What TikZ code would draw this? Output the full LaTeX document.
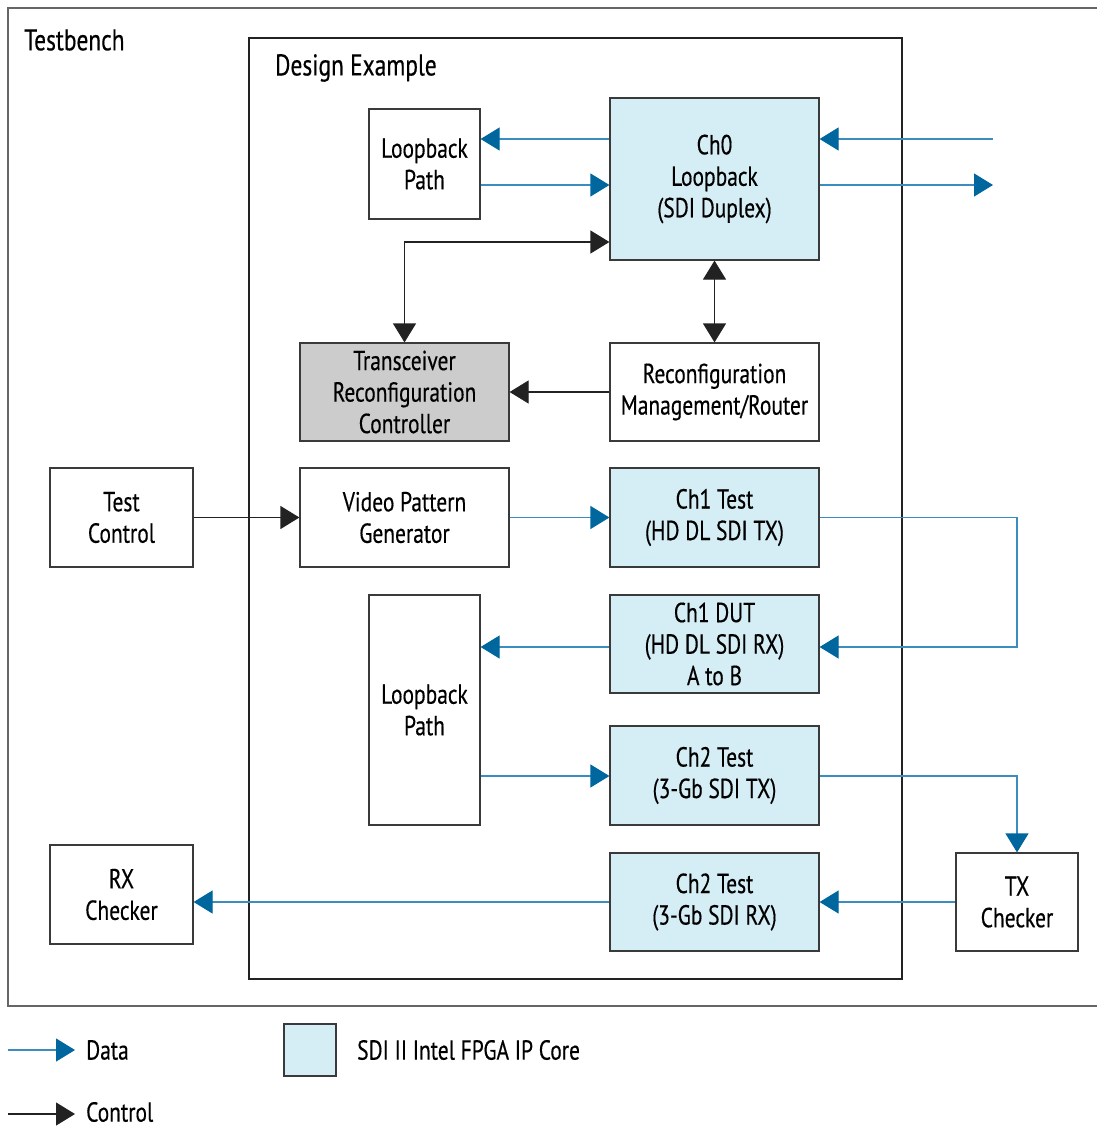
\documentclass[tikz,border=0pt]{standalone}
\usepackage{fontspec}
\setmainfont{PT Sans}[FakeStretch=0.78,FakeBold=0.4]
\usetikzlibrary{arrows.meta,calc}
\definecolor{ipblue}{HTML}{D5EDF5}
\definecolor{dataline}{HTML}{3A8DBE}
\definecolor{datahead}{HTML}{00669E}
\definecolor{ctrl}{HTML}{222222}
\definecolor{edge}{HTML}{3A3A3A}
\definecolor{trcgray}{HTML}{CCCCCC}
\begin{document}
\begin{tikzpicture}[x=1pt,y=-1pt,
  box/.style={draw=edge,line width=1.2pt,inner sep=0pt,align=center,
    font=\fontsize{27.5}{31.5}\selectfont},
  ipbox/.style={box,fill=ipblue},
  data/.style={draw=dataline,line width=1.2pt,
    -{Triangle[length=19pt,width=23pt,fill=datahead,color=datahead]}},
  control/.style={draw=ctrl,line width=1.2pt,
    -{Triangle[length=19pt,width=23pt,fill=ctrl,color=ctrl]}},
  controlboth/.style={control,{Triangle[length=19pt,width=23pt,fill=ctrl,color=ctrl]}-{Triangle[length=19pt,width=23pt,fill=ctrl,color=ctrl]}},
  title/.style={anchor=west,inner sep=0pt,font=\fontsize{30}{34}\selectfont},
  legtext/.style={anchor=west,inner sep=0pt,font=\fontsize{27.5}{31.5}\selectfont}]
\useasboundingbox (0,0) rectangle (1097,1126);
% Testbench frame (open at right)
\draw[draw=gray!80!black,line width=1.4pt] (1097,8) -- (8,8) -- (8,1006) -- (1097,1006);
\node[title] (tb) at (24,40) {Testbench};
% Design example frame
\draw[draw=ctrl,line width=1.2pt] (249,38) rectangle (902,979);
\node[title] (de) at (275,68) {Design Example};
% Blocks
\node[box,minimum width=111,minimum height=110] (lb1) at (424.5,164) {Loopback\\Path};
\node[ipbox,minimum width=209,minimum height=162] (ch0) at (714.5,179) {Ch0\\Loopback\\(SDI Duplex)};
\node[box,fill=trcgray,minimum width=209,minimum height=98] (trc) at (404.5,392) {Transceiver\\Reconfiguration\\Controller};
\node[box,minimum width=209,minimum height=98] (rmr) at (714.5,392) {Reconfiguration\\Management/Router};
\node[box,minimum width=143,minimum height=99] (tc) at (121.5,517.5) {Test\\Control};
\node[box,minimum width=209,minimum height=99] (vpg) at (404.5,517.5) {Video Pattern\\Generator};
\node[ipbox,minimum width=209,minimum height=99] (ch1t) at (714.5,517.5) {Ch1 Test\\(HD DL SDI TX)};
\node[ipbox,minimum width=209,minimum height=98] (ch1d) at (714.5,644) {Ch1 DUT\\(HD DL SDI RX)\\A to B};
\node[box,minimum width=111,minimum height=230] (lb2) at (424.5,710) {Loopback\\Path};
\node[ipbox,minimum width=209,minimum height=99] (ch2t) at (714.5,775.5) {Ch2 Test\\(3-Gb SDI TX)};
\node[ipbox,minimum width=209,minimum height=98] (ch2r) at (714.5,902) {Ch2 Test\\(3-Gb SDI RX)};
\node[box,minimum width=122,minimum height=98] (txc) at (1017,902) {TX\\Checker};
\node[box,minimum width=143,minimum height=99] (rxc) at (121.5,894.5) {RX\\Checker};
% External coordinates
\coordinate (extin) at (993,139);
\coordinate (extout) at (993,185);
% Data connectors
\draw[data] (ch0.west |- 0,139) -- (lb1.east |- 0,139);
\draw[data] (lb1.east |- 0,185) -- (ch0.west |- 0,185);
\draw[data] (extin) -- (ch0.east |- extin);
\draw[data] (ch0.east |- extout) -- (extout);
\draw[data] (vpg.east) -- (ch1t.west);
\draw[data] (ch1t.east) -- (1017,517.5) |- (ch1d.east |- 0,647);
\draw[data] (ch1d.west |- 0,647) -- (lb2.east |- 0,647);
\draw[data] (lb2.east |- 0,776) -- (ch2t.west |- 0,776);
\draw[data] (ch2t.east |- 0,776) -| (txc.north);
\draw[data] (txc.west) -- (ch2r.east);
\draw[data] (ch2r.west) -- (rxc.east |- ch2r.west);
% Control connectors
\draw[controlboth] (trc.north) |- (ch0.west |- 0,242);
\draw[controlboth] (ch0.south) -- (rmr.north);
\draw[control] (rmr.west) -- (trc.east);
\draw[control] (tc.east) -- (vpg.west);
% Legend
\coordinate (ld0) at (8,1050);
\coordinate (ld1) at (75,1050);
\coordinate (lc0) at (8,1114);
\coordinate (lc1) at (75,1114);
\draw[data] (ld0) -- (ld1);
\draw[control] (lc0) -- (lc1);
\node[legtext] (ldt) at (86,1050) {Data};
\node[legtext] (lct) at (86,1112) {Control};
\node[draw=edge,fill=ipblue,line width=1.2pt,minimum width=52,minimum height=52,inner sep=0pt] (lsq) at (310,1050) {};
\node[legtext] (lst) at (357,1050) {SDI II Intel FPGA IP Core};
\end{tikzpicture}
\end{document}
